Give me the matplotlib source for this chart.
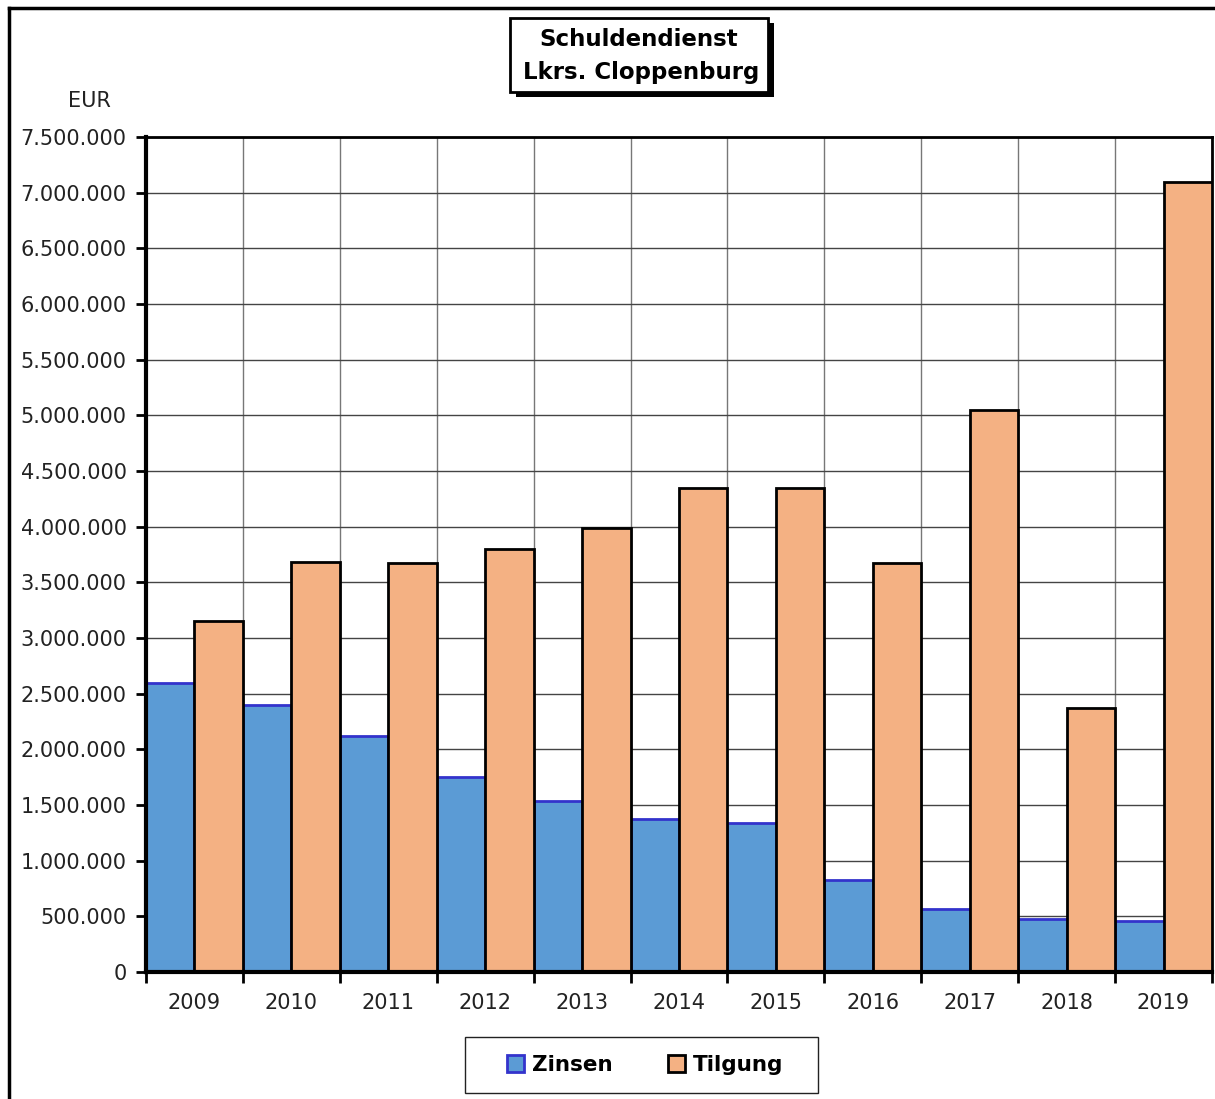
import matplotlib
matplotlib.use("Agg")
import matplotlib.pyplot as plt
from matplotlib.patches import Rectangle, Patch
from matplotlib.ticker import FuncFormatter, MultipleLocator
import numpy as np

years = ["2009", "2010", "2011", "2012", "2013", "2014", "2015", "2016", "2017", "2018", "2019"]
zinsen = [2600000, 2400000, 2120000, 1750000, 1540000, 1370000, 1340000, 830000, 570000, 475000, 460000]
tilgung = [3155000, 3685000, 3675000, 3800000, 3990000, 4350000, 4350000, 3675000, 5050000, 2370000, 7100000]

title_lines = ["Schuldendienst", "Lkrs. Cloppenburg"]
y_unit = "EUR"
series_names = ["Zinsen", "Tilgung"]

W, H = 1215, 1099
fig = plt.figure(figsize=(W / 100, H / 100), dpi=100)
plt.rcParams['font.family'] = ['DejaVu Sans']
FONT = 'DejaVu Sans'

def fx(px):
    return px / W

def fy(py):
    return 1 - py / H

# outer frame (left and top edges visible)
fig.add_artist(plt.Line2D([fx(9), fx(9)], [0, fy(8)], transform=fig.transFigure, color='black', lw=2.5))
fig.add_artist(plt.Line2D([fx(9), 1], [fy(8), fy(8)], transform=fig.transFigure, color='black', lw=2.5))

left, right, top, bottom = 146, 1212, 137, 972
ax = fig.add_axes([fx(left), fy(bottom), fx(right - left), (bottom - top) / H])

x = np.arange(len(years))
ax.bar(x - 0.5, zinsen, width=0.5, align='edge', color='#5b9bd5', edgecolor='#3333cc', linewidth=2, zorder=3)
ax.bar(x, tilgung, width=0.5, align='edge', color='#f4b183', edgecolor='black', linewidth=2, zorder=4)

ax.set_xlim(-0.5, len(years) - 0.5)
ax.set_ylim(0, 7500000)
ax.yaxis.set_major_locator(MultipleLocator(500000))
ax.yaxis.set_major_formatter(FuncFormatter(lambda v, p: f"{int(v):,}".replace(",", ".")))

ax.set_xticks(x)
ax.set_xticklabels(years)
ax.set_xticks(np.arange(len(years) + 1) - 0.5, minor=True)
ax.tick_params(axis='x', which='major', length=0, pad=15, labelsize=15, labelcolor='#222222')
ax.tick_params(axis='x', which='minor', length=8, width=2, direction='out', color='black')
ax.tick_params(axis='y', which='major', length=7, width=2, direction='out', labelsize=15, labelcolor='#222222', pad=7)

ax.grid(True, axis='y', which='major', color='#444444', lw=1, zorder=1)
ax.grid(True, axis='x', which='minor', color='#777777', lw=1, zorder=1)
ax.set_axisbelow(True)

for s in ['left', 'bottom']:
    ax.spines[s].set_linewidth(3)
    ax.spines[s].set_zorder(6)
for s in ['top', 'right']:
    ax.spines[s].set_linewidth(2)
    ax.spines[s].set_color('black')

fig.text(fx(89), fy(101), y_unit, ha='center', va='center', fontsize=15, color='#222222', family=FONT)

# title box with shadow
tb_l, tb_t, tb_r, tb_b = 510, 18, 768, 92
fig.patches.append(Rectangle((fx(tb_l + 6), fy(tb_b + 5)), fx(tb_r - tb_l), (tb_b - tb_t) / H,
                             transform=fig.transFigure, fc='black', ec='black', lw=0, zorder=5))
fig.patches.append(Rectangle((fx(tb_l), fy(tb_b)), fx(tb_r - tb_l), (tb_b - tb_t) / H,
                             transform=fig.transFigure, fc='white', ec='black', lw=2, zorder=6))
fig.text(fx(639), fy(40), title_lines[0], ha='center', va='center', fontsize=16.5, fontweight='bold', family=FONT, zorder=7)
fig.text(fx(641), fy(72), title_lines[1], ha='center', va='center', fontsize=16.5, fontweight='bold', family=FONT, zorder=7)

# legend frame
fig.patches.append(Rectangle((fx(465), fy(1093)), fx(818 - 465), (1093 - 1037) / H,
                             transform=fig.transFigure, fc='white', ec='#222222', lw=1, zorder=5))
handles = [Patch(facecolor='#5b9bd5', edgecolor='#3333cc', lw=2, label=series_names[0]),
           Patch(facecolor='#f4b183', edgecolor='black', lw=2, label=series_names[1])]
leg = fig.legend(handles=handles, loc='center', bbox_to_anchor=(fx(645), fy(1065)), ncol=2,
                 frameon=False, handlelength=0.8, handleheight=0.8,
                 handletextpad=0.35, columnspacing=2.6, borderpad=0.3,
                 prop={'family': FONT, 'weight': 'bold', 'size': 15.5})
leg.set_zorder(7)

fig.savefig("out.png", dpi=100)
